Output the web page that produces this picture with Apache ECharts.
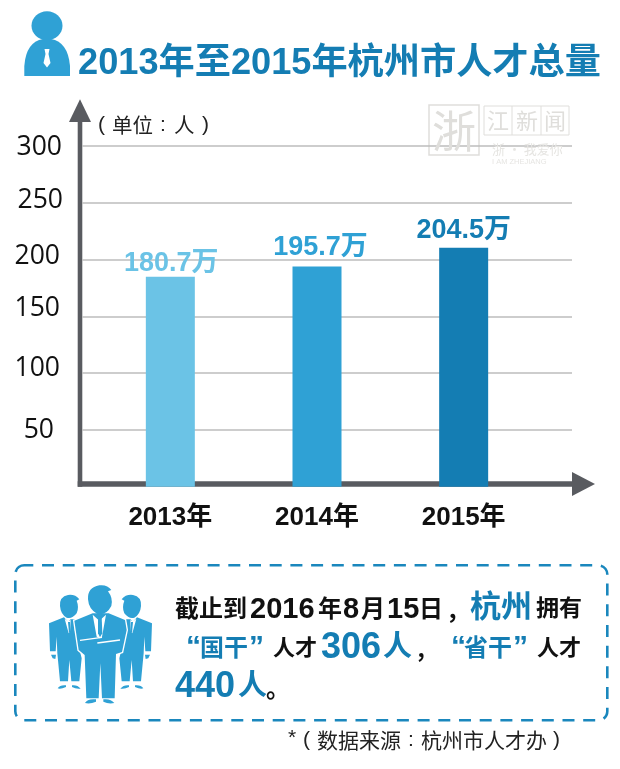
<!DOCTYPE html>
<html><head><meta charset="utf-8">
<style>html,body{margin:0;padding:0;background:#fff}#c{width:620px;height:769px}</style>
<script src="https://cdn.jsdelivr.net/npm/echarts@6/dist/echarts.min.js"></script>
</head><body><div id="c"></div>
<script>
const titleText = '2013年至2015年杭州市人才总量';
const categories = ['2013年', '2014年', '2015年'];
const barHeights = [184.7, 193.7, 210.2];
const valueLabels = ['180.7万', '195.7万', '204.5万'];
const yTicks = [50, 100, 150, 200, 250, 300];
const barColors = ['#6bc3e6', '#2fa1d5', '#147db3'];

const F = '"Liberation Sans","Noto Sans CJK SC",sans-serif';
const CJK = '"Noto Sans CJK SC",sans-serif';
const BLUE = '#147db3', MID = '#2fa1d5', DARK = '#595b60', INK = '#111';

let pathCount = 0;
function P(d, style) {
  const name = 'iconPath' + (pathCount++);
  echarts.graphic.registerShape(name, echarts.graphic.extendPath(d, {}));
  return { type: name, style };
}
function t(text, x, y, size, color, weight, family, extra) {
  return { type: 'text', z: 20, x, y, style: Object.assign({ text, fontSize: size, fill: color || INK,
    fontWeight: weight || 'bold', fontFamily: family || F, verticalAlign: 'middle', align: 'left' }, extra || {}) };
}
const labelNudge = { 300: [3, 0, 1], 250: [0, 4, 0], 200: [0, 5, 3], 150: [0, 15, 3], 100: [0, 10, 3], 50: [1, 0, 9] };
const rich = {};
yTicks.forEach(v => { const n = labelNudge[v];
  rich['v' + v] = { fontSize: 26.5, fontFamily: '"Open Sans"', color: '#111', padding: [n[0], n[2], n[1], 0] }; });

const man = 'M27 130 L72 112 L84 125 L92 118 L106 118 L104 150 L125 235 L118 304 L94 304 L88 240 L84 304 L60 304 L52 220 L50 170 L47 214 L30 214 Z';
const manFeet = 'M53 325 Q60 314 78 316 L78 321 Q62 328 53 325 Z M96 316 Q112 314 122 326 Q108 328 96 321 Z M33 224 L48 224 L46 237 L38 235 Z';
const hairHead = 'M60 78 Q58 50 84 45 Q105 42 118 58 L110 62 Q118 82 110 100 Q96 118 80 113 Q62 103 60 78 Z';
function sideMan(mirror) {
  return { type: 'group', x: mirror ? 363 : 0, scaleX: mirror ? -1 : 1, children: [
    P(man + ' ' + manFeet + ' ' + hairHead, { fill: MID }),
    { type: 'polygon', shape: { points: [[74, 116], [84, 124], [92, 120], [90, 155], [86, 160]] }, style: { fill: '#fff' } },
    { type: 'polygon', shape: { points: [[84, 126], [90, 126], [90, 156], [87, 160]] }, style: { fill: MID } }
  ] };
}
const people = { type: 'group', x: 40, y: 580, scaleX: 1 / 3, scaleY: 1 / 3, z: 20, children: [
  sideMan(false), sideMan(true),
  P('M103 122 L158 100 L206 100 L255 120 L260 150 L246 216 L228 222 L224 355 L186 355 L181 250 L176 355 L139 355 L134 225 L116 210 Z',
    { fill: MID, stroke: '#fff', lineWidth: 8, strokeFirst: true }),
  P('M144 58 Q142 22 178 16 Q202 13 214 30 L204 34 Q220 55 214 78 Q198 108 172 102 Q146 88 144 58 Z M135 369 Q142 355 168 358 L168 365 Q150 373 135 369 Z M190 358 Q212 355 223 369 Q206 373 190 365 Z',
    { fill: MID }),
  { type: 'polygon', shape: { points: [[158, 104], [178, 122], [198, 104], [186, 170], [178, 175], [170, 170]] }, style: { fill: '#fff' } },
  { type: 'polygon', shape: { points: [[174, 110], [185, 110], [187, 160], [180, 172], [174, 160]] }, style: { fill: MID } },
  { type: 'line', shape: { x1: 120, y1: 181, x2: 186, y2: 172 }, style: { stroke: '#fff', lineWidth: 4 } },
  { type: 'line', shape: { x1: 172, y1: 189, x2: 240, y2: 180 }, style: { stroke: '#fff', lineWidth: 4 } }
] };
const logo = { type: 'group', z: 20, children: [
  { type: 'ellipse', shape: { cx: 47, cy: 25.7, rx: 15.5, ry: 14.5 }, style: { fill: MID } },
  P('M24.3 76 L70 76 L70 66 Q68 42 51 39 L43 39 Q26 42 24.3 66 Z', { fill: MID }),
  { type: 'polygon', shape: { points: [[44.5, 49], [49.5, 49], [48.5, 54], [50.5, 63], [47, 67.5], [43.5, 63], [45.5, 54]] }, style: { fill: '#fff' } }
] };
const WM = '#dfdedb';
const watermark = { type: 'group', z: 20, children: [
  { type: 'rect', shape: { x: 429, y: 105, width: 50, height: 50 }, style: { fill: 'none', stroke: WM, lineWidth: 1.5 } },
  t('浙', 432, 131, 44, WM, 'normal', CJK),
  { type: 'rect', shape: { x: 484, y: 106, width: 85, height: 29 }, style: { fill: 'none', stroke: WM, lineWidth: 1 } },
  { type: 'line', shape: { x1: 512, y1: 106, x2: 512, y2: 135 }, style: { stroke: WM, lineWidth: 1 } },
  { type: 'line', shape: { x1: 541, y1: 106, x2: 541, y2: 135 }, style: { stroke: WM, lineWidth: 1 } },
  t('江', 487, 121, 22, WM, 'normal', CJK), t('新', 516, 121, 22, WM, 'normal', CJK), t('闻', 544, 121, 22, WM, 'normal', CJK),
  t('浙 · 我爱你', 492, 149, 13, '#e6e5e2', 'normal', CJK),
  t('I AM ZHEJIANG', 492, 162, 7.5, '#e6e5e2', 'normal', '"Liberation Sans"', { letterSpacing: 1.1 })
] };
const axes = { type: 'group', z: 15, children: [
  { type: 'rect', shape: { x: 77.7, y: 120, width: 4.6, height: 366.7 }, style: { fill: DARK } },
  { type: 'polygon', shape: { points: [[80, 99.3], [91, 122], [69, 122]] }, style: { fill: DARK } },
  { type: 'rect', shape: { x: 77.7, y: 481.3, width: 496, height: 5.4 }, style: { fill: DARK } },
  { type: 'polygon', shape: { points: [[595, 484], [572, 472], [572, 496]] }, style: { fill: DARK } }
] };
const box = { type: 'rect', z: 15, shape: { x: 15.3, y: 565.3, width: 592, height: 155, r: 9 },
  style: { fill: 'none', stroke: '#1a87bd', lineWidth: 2.6, lineDash: [12, 8.7], lineDashOffset: 3 } };

const LS = '"Liberation Sans"';
const notes = [
  t('截止到', 175, 610, 24), t('2016', 250, 610, 29), t('年', 318, 610, 24), t('8', 343, 610, 29),
  t('月', 361, 610, 24), t('15', 387, 610, 29), t('日', 419, 610, 24), t('，', 446, 612, 24),
  t('杭州', 470, 608, 31, BLUE), t('拥有', 536, 610, 23),
  t('“', 186, 648, 30, BLUE, 'bold', LS), t('国干', 200, 649, 24, BLUE), t('”', 249, 648, 30, BLUE, 'bold', LS),
  t('人才', 273, 649, 22), t('306', 321, 648, 36, BLUE), t('人', 383, 648, 29, BLUE), t('，', 415, 652, 22),
  t('“', 451, 648, 30, BLUE, 'bold', LS), t('省干', 464, 649, 24, BLUE), t('”', 513, 648, 30, BLUE, 'bold', LS),
  t('人才', 537, 649, 22),
  t('440', 175, 687, 36, BLUE), t('人', 238, 687, 29, BLUE), t('。', 266, 690, 24),
  t('*', 288, 738, 21, '#222', 'normal', LS), t('(', 303, 740, 21, '#222', 'normal', LS),
  t('数据来源', 317, 740, 21, '#222', 'normal', CJK), t(':', 408, 740, 21, '#222', 'normal', LS),
  t('杭州市人才办', 421, 740, 21, '#222', 'normal', CJK), t(')', 553, 740, 21, '#222', 'normal', LS),
  t('(', 98, 125, 21, '#222', 'normal', LS), t('单位', 112, 125, 20.5, '#222', 'normal', CJK),
  t(':', 160, 125, 21, '#222', 'normal', LS), t('人', 174, 125, 20.5, '#222', 'normal', CJK),
  t(')', 202, 125, 21, '#222', 'normal', LS)
];
const labelOffsets = [[1, 5], [3.5, -1], [0, 1]];

const chart = echarts.init(document.getElementById('c'), null, { renderer: 'canvas' });
chart.setOption({
  animation: false,
  backgroundColor: '#fff',
  title: { text: titleText, left: 78, top: 46, padding: 0,
    textStyle: { color: BLUE, fontSize: 36.2, fontWeight: 'bold', fontFamily: F } },
  grid: [
    { left: 82, right: 48, top: 145.7, bottom: 282.2 },
    { left: 97, width: 440, top: 145.7, bottom: 282.2 }
  ],
  xAxis: [
    { gridIndex: 0, type: 'category', data: categories, show: false },
    { gridIndex: 1, type: 'category', data: categories, axisLine: { show: false }, axisTick: { show: false },
      axisLabel: { margin: 18.5, fontSize: 26, fontWeight: 'bold', color: '#111', fontFamily: F } }
  ],
  yAxis: [
    { gridIndex: 0, type: 'value', min: 0, max: 300, interval: 50,
      axisLine: { show: false }, axisTick: { show: false },
      splitLine: { showMinLine: false, lineStyle: { color: '#bdbdbd', width: 1.5 } },
      axisLabel: { margin: 19, showMinLabel: false, formatter: v => v ? `{v${v}|${v}}` : '', rich } },
    { gridIndex: 1, type: 'value', min: 0, max: 300, interval: 50, show: false, splitLine: { show: false } }
  ],
  series: [{
    type: 'bar', xAxisIndex: 1, yAxisIndex: 1, barWidth: 49, z: 5,
    data: barHeights.map((v, i) => ({
      value: v, itemStyle: { color: barColors[i] },
      label: { show: true, position: 'top', distance: 5, offset: labelOffsets[i], formatter: valueLabels[i],
        color: barColors[i], fontSize: 27, fontWeight: 'bold', fontFamily: F }
    }))
  }],
  graphic: [logo, watermark, axes, box, people].concat(notes)
});
</script></body></html>
